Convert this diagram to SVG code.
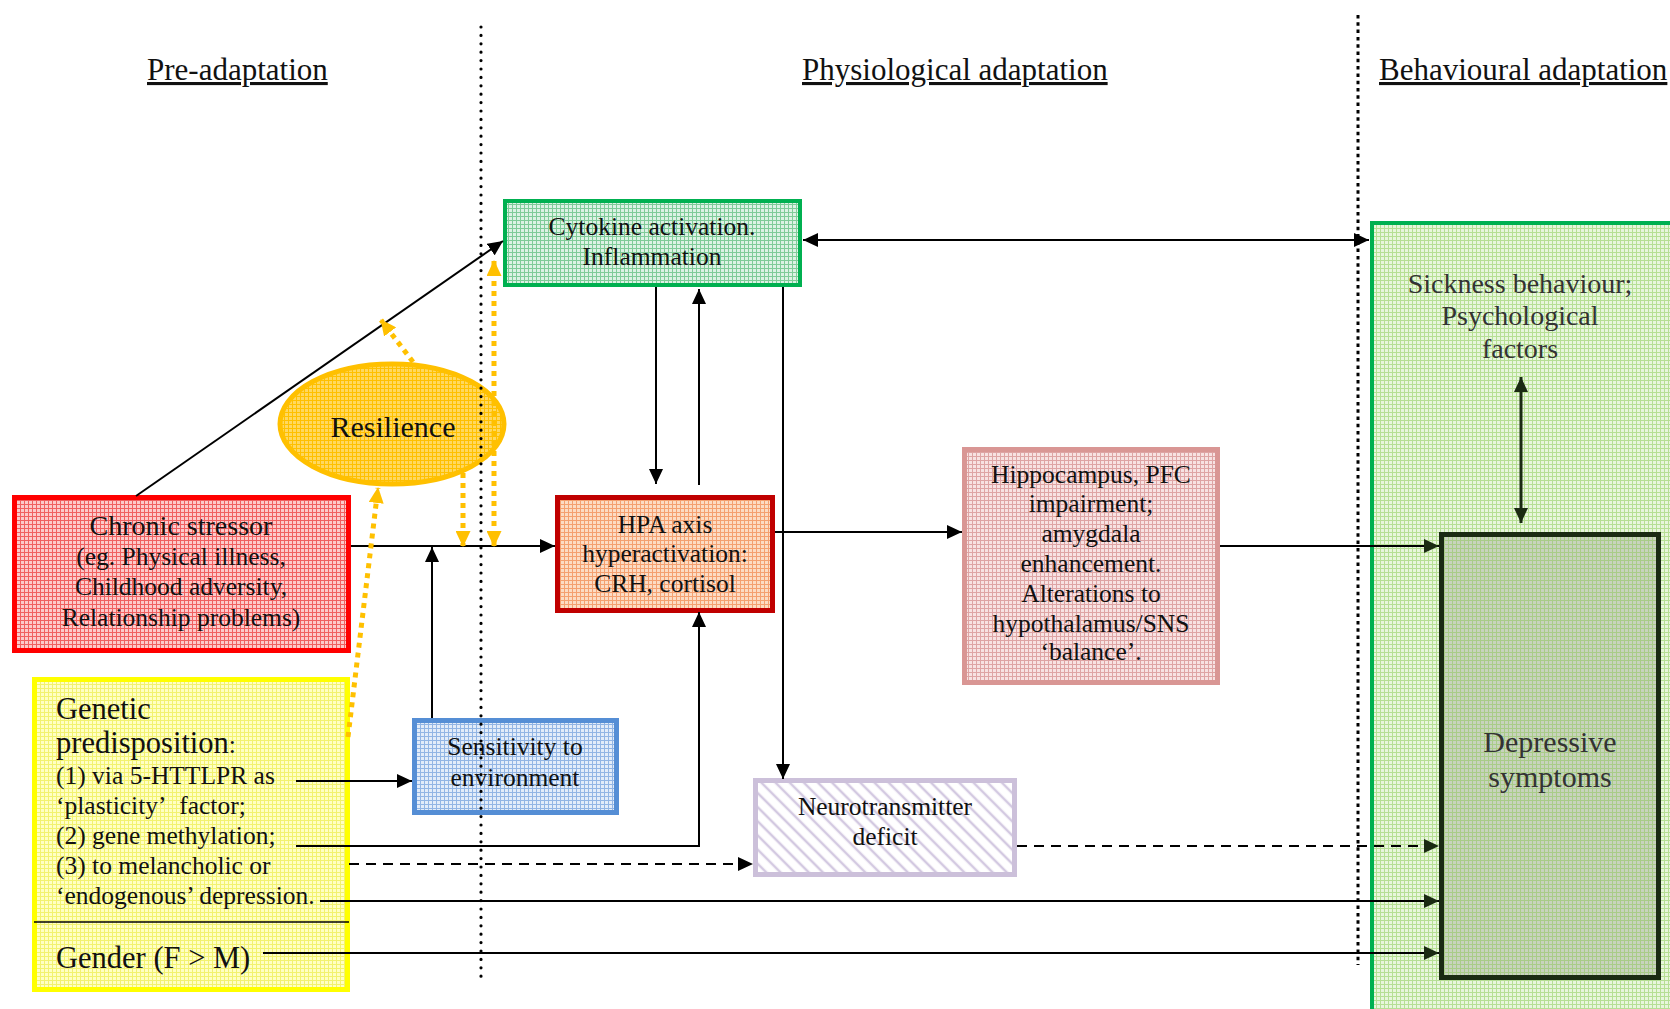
<svg xmlns="http://www.w3.org/2000/svg" width="1670" height="1009" viewBox="0 0 1670 1009">
<style>
text{font-family:"Liberation Serif","Times New Roman",serif;fill:#111;}
.t{font-size:25.5px;text-anchor:middle;}
.hd{font-size:31px;text-decoration:underline;}
.ln{stroke:#000;stroke-width:2;fill:none;}
.dash{stroke:#000;stroke-width:2;fill:none;stroke-dasharray:10 7;}
.org{stroke:#ffc000;stroke-width:5;fill:none;stroke-dasharray:5 5;}
.arr{marker-end:url(#ah);}
.oarr{marker-end:url(#oh);}
</style>
<defs>
<marker id="ah" markerUnits="userSpaceOnUse" markerWidth="15" markerHeight="14" refX="15" refY="7" orient="auto"><path d="M0,0L15,7L0,14z" fill="#000"/></marker>
<marker id="ahs" markerUnits="userSpaceOnUse" markerWidth="15" markerHeight="14" refX="15" refY="7" orient="auto-start-reverse"><path d="M0,0L15,7L0,14z" fill="#000"/></marker>
<marker id="dh" markerUnits="userSpaceOnUse" markerWidth="15" markerHeight="14" refX="15" refY="7" orient="auto-start-reverse"><path d="M0,0L15,7L0,14z" fill="#1a2a12"/></marker>
<marker id="oh" markerUnits="userSpaceOnUse" markerWidth="16" markerHeight="15" refX="15" refY="7.5" orient="auto-start-reverse"><path d="M0,0L16,7.5L0,15z" fill="#ffc000"/></marker>
<pattern id="pGreen" width="4" height="4" patternUnits="userSpaceOnUse"><rect width="4" height="4" fill="#dcf2e4"/><path d="M0,0.5H4M0.5,0V4" stroke="#7fcb98" stroke-width="1"/></pattern>
<pattern id="pRed" width="4" height="4" patternUnits="userSpaceOnUse"><rect width="4" height="4" fill="#fccaca"/><path d="M0,0.5H4M0.5,0V4" stroke="#f06060" stroke-width="1"/></pattern>
<pattern id="pOrange" width="4" height="4" patternUnits="userSpaceOnUse"><rect width="4" height="4" fill="#fcdcc4"/><path d="M0,0.5H4M0.5,0V4" stroke="#f4a070" stroke-width="1"/></pattern>
<pattern id="pPink" width="4" height="4" patternUnits="userSpaceOnUse"><rect width="4" height="4" fill="#f7e2e2"/><path d="M0,0.5H4M0.5,0V4" stroke="#dea4a4" stroke-width="1"/></pattern>
<pattern id="pBlue" width="4" height="4" patternUnits="userSpaceOnUse"><rect width="4" height="4" fill="#e2ecf9"/><path d="M0,0.5H4M0.5,0V4" stroke="#92b5e4" stroke-width="1"/></pattern>
<pattern id="pYellow" width="4" height="4" patternUnits="userSpaceOnUse"><rect width="4" height="4" fill="#ffffc4"/><path d="M0,0.5H4M0.5,0V4" stroke="#f2f270" stroke-width="1"/></pattern>
<pattern id="pRes" width="4" height="4" patternUnits="userSpaceOnUse"><rect width="4" height="4" fill="#ffd860"/><path d="M0,0.5H4M0.5,0V4" stroke="#ffc000" stroke-width="1"/></pattern>
<pattern id="pLG" width="4" height="4" patternUnits="userSpaceOnUse"><rect width="4" height="4" fill="#e8f6dc"/><path d="M0,0.5H4M0.5,0V4" stroke="#b6df94" stroke-width="1"/></pattern>
<pattern id="pDep" width="4" height="4" patternUnits="userSpaceOnUse"><rect width="4" height="4" fill="#c8d3bd"/><path d="M0,0.5H4M0.5,0V4" stroke="#a9cc88" stroke-width="1"/></pattern>
<pattern id="pStripe" width="10" height="10" patternUnits="userSpaceOnUse" patternTransform="rotate(-45)"><rect width="10" height="10" fill="#fff"/><path d="M5,0V10" stroke="#d3c9e1" stroke-width="2.5"/></pattern>
</defs>
<rect width="1670" height="1009" fill="#fff"/>

<g id="headers">
<text class="hd" x="147" y="80">Pre-adaptation</text>
<text class="hd" x="802" y="80">Physiological adaptation</text>
<text class="hd" x="1379" y="80">Behavioural adaptation</text>
</g>

<g id="behavioural">
<rect x="1372" y="223" width="400" height="900" fill="url(#pLG)" stroke="#00b050" stroke-width="4"/>
<text class="t" x="1520" y="293" style="font-size:28px;fill:#333">Sickness behaviour;</text>
<text class="t" x="1520" y="325" style="font-size:28px;fill:#333">Psychological</text>
<text class="t" x="1520" y="358" style="font-size:28px;fill:#333">factors</text>
</g>

<g id="depressive">
<rect x="1441.5" y="534.5" width="217" height="443" fill="url(#pDep)" stroke="#1a2a12" stroke-width="5"/>
<text class="t" x="1550" y="752" style="font-size:30px;fill:#333">Depressive</text>
<text class="t" x="1550" y="787" style="font-size:30px;fill:#333">symptoms</text>
</g>

<g id="cytokine">
<rect x="505" y="201" width="295" height="84" fill="url(#pGreen)" stroke="#00b050" stroke-width="4"/>
<text class="t" x="652" y="235">Cytokine activation.</text>
<text class="t" x="652" y="265">Inflammation</text>
</g>

<g id="chronic">
<rect x="14.5" y="497.5" width="334" height="153" fill="url(#pRed)" stroke="#ff0000" stroke-width="5"/>
<text class="t" x="181" y="535" style="font-size:28px">Chronic stressor</text>
<text class="t" x="181" y="565">(eg. Physical illness,</text>
<text class="t" x="181" y="595">Childhood adversity,</text>
<text class="t" x="181" y="626">Relationship problems)</text>
</g>

<g id="resilience">
<ellipse cx="392" cy="424" rx="112" ry="60" fill="url(#pRes)" stroke="#ffc000" stroke-width="5"/>
<text class="t" x="393" y="437" style="font-size:30px">Resilience</text>
</g>

<g id="hpa">
<rect x="557.5" y="497.5" width="215" height="113" fill="url(#pOrange)" stroke="#c00000" stroke-width="5"/>
<text class="t" x="665" y="533">HPA axis</text>
<text class="t" x="665" y="562">hyperactivation:</text>
<text class="t" x="665" y="592">CRH, cortisol</text>
</g>

<g id="hippocampus">
<rect x="964.5" y="449.5" width="253" height="233" fill="url(#pPink)" stroke="#d99694" stroke-width="5"/>
<text class="t" x="1091" y="483">Hippocampus, PFC</text>
<text class="t" x="1091" y="512">impairment;</text>
<text class="t" x="1091" y="542">amygdala</text>
<text class="t" x="1091" y="572">enhancement.</text>
<text class="t" x="1091" y="602">Alterations to</text>
<text class="t" x="1091" y="632">hypothalamus/SNS</text>
<text class="t" x="1091" y="660">‘balance’.</text>
</g>

<g id="sensitivity">
<rect x="414.5" y="720.5" width="202" height="92" fill="url(#pBlue)" stroke="#558ed5" stroke-width="5"/>
<text class="t" x="515" y="755">Sensitivity to</text>
<text class="t" x="515" y="786">environment</text>
</g>

<g id="neurotransmitter">
<rect x="755.5" y="780.5" width="259" height="94" fill="url(#pStripe)" stroke="#ccc0da" stroke-width="5"/>
<text class="t" x="885" y="815">Neurotransmitter</text>
<text class="t" x="885" y="845">deficit</text>
</g>

<g id="genetic">
<rect x="34.5" y="679.5" width="313" height="310" fill="url(#pYellow)" stroke="#ffff00" stroke-width="5"/>
<line x1="34" y1="922" x2="349" y2="922" stroke="#000" stroke-width="1.5"/>
<text x="56" y="719" style="font-size:30.5px">Genetic</text>
<text x="56" y="753" style="font-size:30.5px">predisposition<tspan style="font-size:25.5px">:</tspan></text>
<text x="56" y="784" style="font-size:25.5px">(1) via 5-HTTLPR as</text>
<text x="56" y="814" style="font-size:25.5px">‘plasticity’&#160; factor;</text>
<text x="56" y="844" style="font-size:25.5px">(2) gene methylation;</text>
<text x="56" y="874" style="font-size:25.5px">(3) to melancholic or</text>
<text x="56" y="904" style="font-size:25.5px">‘endogenous’ depression.</text>
<text x="56" y="968" style="font-size:30.5px">Gender (F &gt; M)</text>
</g>

<g id="connectors">
<line class="ln arr" x1="136" y1="496" x2="503" y2="241"/>
<line class="ln arr" x1="351" y1="546" x2="555" y2="546"/>
<line class="ln arr" x1="432" y1="718" x2="432" y2="547"/>
<line class="ln arr" x1="656" y1="287" x2="656" y2="484"/>
<line class="ln arr" x1="699" y1="485" x2="699" y2="289"/>
<line class="ln arr" x1="783" y1="287" x2="783" y2="779"/>
<line class="ln" x1="803" y1="240" x2="1369" y2="240" marker-start="url(#ahs)" marker-end="url(#ahs)"/>
<line class="ln arr" x1="775" y1="532" x2="962" y2="532"/>
<line class="ln" x1="1220" y1="546" x2="1439" y2="546" marker-end="url(#dh)"/>
<line class="ln arr" x1="296" y1="781" x2="412" y2="781"/>
<polyline class="ln arr" points="296,846 699,846 699,612"/>
<line class="dash arr" x1="349" y1="864" x2="753" y2="864"/>
<line class="dash" x1="1017" y1="846" x2="1439" y2="846" marker-end="url(#dh)"/>
<line class="ln" x1="320" y1="901" x2="1439" y2="901" marker-end="url(#dh)"/>
<line class="ln" x1="263" y1="953" x2="1439" y2="953" marker-end="url(#dh)"/>
<line x1="1521" y1="377" x2="1521" y2="523" stroke="#1a2a12" stroke-width="3" marker-start="url(#dh)" marker-end="url(#dh)"/>
<line class="org oarr" x1="413" y1="362" x2="381" y2="320"/>
<line class="org oarr" x1="348" y1="737" x2="378" y2="488"/>
<line class="org oarr" x1="463" y1="473" x2="463" y2="546"/>
<line class="org" x1="494" y1="261" x2="494" y2="546" marker-start="url(#oh)" marker-end="url(#oh)"/>
</g>

<g id="separators">
<line x1="481" y1="27" x2="481" y2="978" stroke="#000" stroke-width="3.2" stroke-linecap="round" stroke-dasharray="0 8.4"/>
<line x1="1358" y1="15" x2="1358" y2="965" stroke="#000" stroke-width="3" stroke-dasharray="3.5 3.8"/>
</g>
</svg>
